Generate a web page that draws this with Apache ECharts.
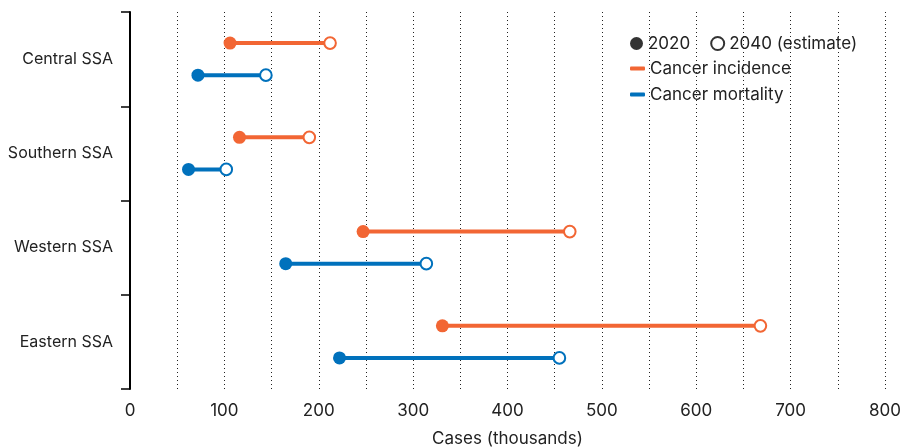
<!DOCTYPE html>
<html><head><meta charset="utf-8">
<script src="https://cdn.jsdelivr.net/npm/echarts@6/dist/echarts.min.js"></script>
<style>html,body{margin:0;padding:0;background:#fff}#c{width:903px;height:448px}</style>
</head><body><div id="c"></div>
<script>
const regions = ['Central SSA', 'Southern SSA', 'Western SSA', 'Eastern SSA'];
const incidence2020 = [106, 116, 247, 331];
const incidence2040 = [212, 190, 466, 668];
const mortality2020 = [72, 62, 165, 222];
const mortality2040 = [144, 102, 314, 455];
const xTicks = [0, 100, 200, 300, 400, 500, 600, 700, 800];

const ORANGE = '#F26634';
const BLUE = '#0071BC';
const FONT = 'Inter';

function makeRender(color, sign) {
  return function (params, api) {
    const ci = api.value(0);
    const a = api.coord([api.value(1), ci]);
    const b = api.coord([api.value(2), ci]);
    const band = api.size([0, 1])[1];
    const dy = sign * band * 0.17;
    return {
      type: 'group',
      children: [
        {type: 'line', shape: {x1: a[0], y1: a[1] + dy, x2: b[0], y2: b[1] + dy}, style: {stroke: color, lineWidth: 4}},
        {type: 'circle', shape: {cx: a[0], cy: a[1] + dy, r: 6.5}, style: {fill: color}},
        {type: 'circle', shape: {cx: b[0], cy: b[1] + dy, r: 5.8}, style: {fill: '#fff', stroke: color, lineWidth: 2}}
      ]
    };
  };
}

const incData = regions.map((r, i) => [i, incidence2020[i], incidence2040[i]]);
const morData = regions.map((r, i) => [i, mortality2020[i], mortality2040[i]]);

const chart = echarts.init(document.getElementById('c'));
chart.setOption({
  animation: false,
  textStyle: {fontFamily: FONT},
  grid: {left: 130, right: 18, top: 12, bottom: 59, containLabel: false, outerBoundsMode: 'none'},
  xAxis: {
    type: 'value', min: 0, max: 800, interval: 50,
    axisLine: {show: false}, axisTick: {show: false},
    axisLabel: {
      fontSize: 17, color: '#222', margin: 13, fontFamily: FONT,
      formatter: v => xTicks.indexOf(v) >= 0 ? String(v) : ''
    },
    splitLine: {show: true, lineStyle: {type: [1, 3], color: '#222', width: 1}},
    name: 'Cases (thousands)', nameLocation: 'middle', nameGap: 41,
    nameTextStyle: {fontSize: 17, color: '#222', fontFamily: FONT}
  },
  yAxis: {
    type: 'category', data: regions, inverse: true,
    axisLine: {show: true, lineStyle: {color: '#000', width: 2}},
    axisTick: {show: true, length: 9, lineStyle: {color: '#000', width: 1.5}},
    axisLabel: {fontSize: 16, color: '#222', margin: 17, fontFamily: FONT},
    splitLine: {show: false}
  },
  legend: [
    {
      data: [{name: '2020', icon: 'circle'}, {name: '2040 (estimate)', icon: 'emptyCircle'}],
      left: 630, top: 35, padding: 0, itemWidth: 13, itemHeight: 13, itemGap: 20,
      textStyle: {fontSize: 17, color: '#222', fontFamily: FONT}
    },
    {
      data: ['Cancer incidence', 'Cancer mortality'],
      orient: 'vertical', left: 630, top: 60, padding: 0, itemWidth: 15, itemHeight: 4, itemGap: 9,
      icon: 'roundRect',
      textStyle: {fontSize: 17, color: '#222', fontFamily: FONT}
    }
  ],
  series: [
    {name: '2020', type: 'scatter', data: [], symbol: 'circle', itemStyle: {color: '#000'}},
    {name: '2040 (estimate)', type: 'scatter', data: [], symbol: 'emptyCircle', itemStyle: {color: '#000', borderColor: '#000', borderWidth: 1.5}},
    {name: 'Cancer incidence', type: 'custom', renderItem: makeRender(ORANGE, -1), data: incData,
      encode: {x: [1, 2], y: 0}, itemStyle: {color: ORANGE}},
    {name: 'Cancer mortality', type: 'custom', renderItem: makeRender(BLUE, 1), data: morData,
      encode: {x: [1, 2], y: 0}, itemStyle: {color: BLUE}}
  ]
});
</script></body></html>
